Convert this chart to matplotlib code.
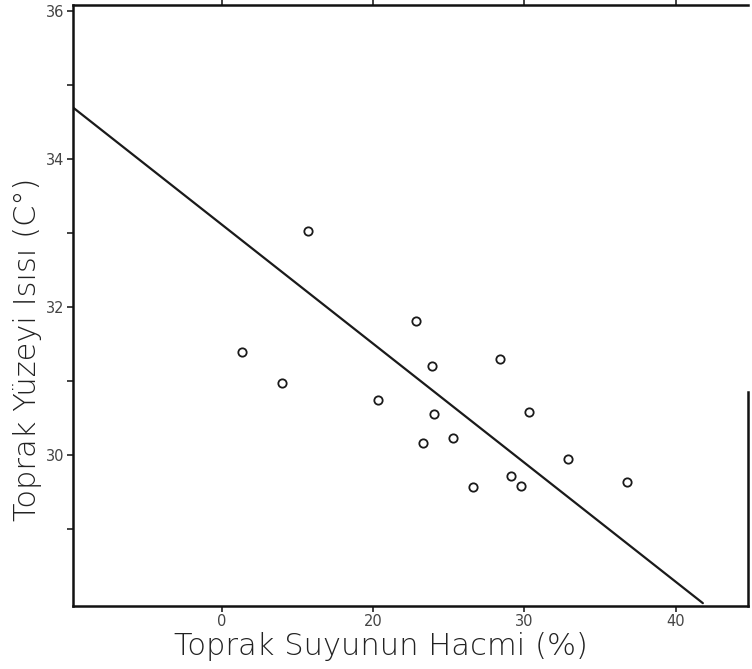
import matplotlib
matplotlib.use("Agg")
import matplotlib.pyplot as plt

# Data
water_volume = [11.3, 14.0, 15.7, 20.3, 22.8, 23.9, 24.0, 23.3, 25.3, 28.4,
                30.3, 26.6, 29.1, 29.8, 32.9, 36.8]
surface_temp = [31.39, 30.97, 33.03, 30.74, 31.81, 31.20, 30.55, 30.16, 30.23, 31.30,
                30.59, 29.57, 29.72, 29.58, 29.95, 29.64]
fit_x = [0.15, 41.8]
fit_y = [34.70, 28.0]

x_ticks = [10, 20, 30, 40]
x_tick_labels = ["0", "20", "30", "40"]
y_ticks = [30, 32, 34, 36]
y_tick_labels = ["30", "32", "34", "36"]
y_minor = [29, 31, 33, 35]

fig = plt.figure(figsize=(7.52, 6.69), dpi=100)
ax = fig.add_axes([0.097, 0.094, 0.898, 0.898])

ax.plot(fit_x, fit_y, color="#1a1a1a", lw=1.6, solid_capstyle="round")
ax.plot(water_volume, surface_temp, linestyle="none", marker="o", markersize=6,
        markerfacecolor="none", markeredgecolor="#1a1a1a", markeredgewidth=1.3)

ax.set_xlim(0.15, 44.8)
ax.set_ylim(27.96, 36.08)

ax.set_xticks(x_ticks)
ax.set_xticklabels(x_tick_labels)
ax.set_yticks(y_ticks)
ax.set_yticklabels(y_tick_labels)
ax.set_yticks(y_minor, minor=True)

ax.tick_params(axis="both", which="major", direction="out", length=4, width=1.2,
               colors="#222222", labelsize=10.5, labelcolor="#444444")
ax.tick_params(axis="x", pad=1.5, top=True)
ax.tick_params(axis="y", which="minor", direction="out", length=4, width=1.2, colors="#222222")
ax.tick_params(axis="y", pad=2)

for s in ["left", "bottom", "top", "right"]:
    ax.spines[s].set_linewidth(1.8)
    ax.spines[s].set_color("#111111")
ax.spines["right"].set_bounds(27.96, 30.85)

ax.set_xlabel("Toprak Suyunun Hacmi (%)", fontsize=22, color="#222222", fontweight="light")
ax.set_ylabel("Toprak Yüzeyi Isısı (C°)", fontsize=22, color="#222222", fontweight="light")
ax.xaxis.set_label_coords(0.456, -0.043)
ax.yaxis.set_label_coords(-0.046, 0.428)

fig.savefig("out.png", dpi=100, facecolor="white")
